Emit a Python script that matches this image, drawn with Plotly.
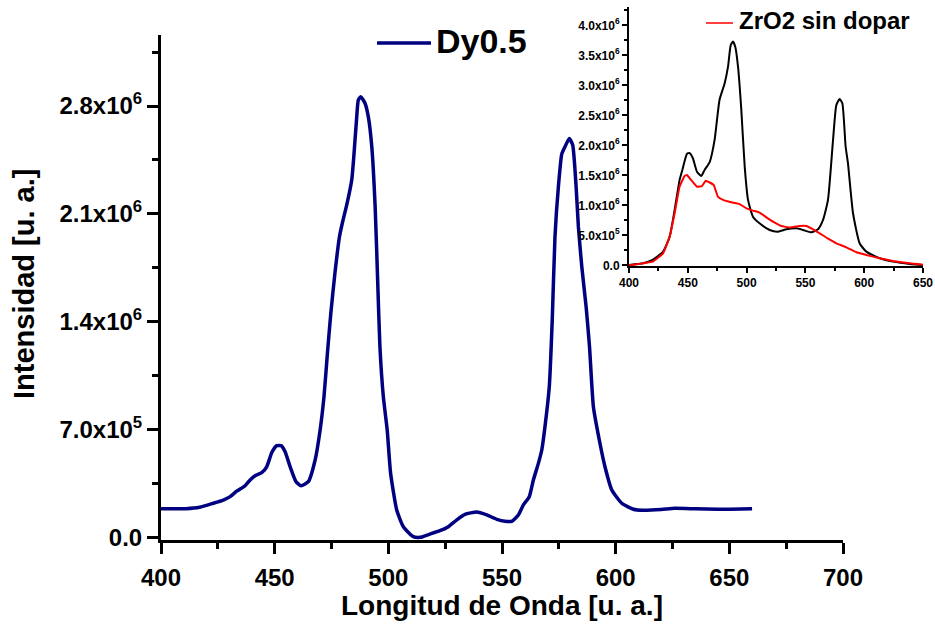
import plotly.graph_objects as go

# ---------------- data ----------------
# Main spectrum: Dy0.5 (wavelength nm, intensity a.u.)
main_x = [400, 411, 417, 423, 427.4, 430.4, 433.3, 437, 439.2, 441.4, 444.3, 446.5, 448.7, 450.9,
          452.8, 454.6, 456.8, 459.4, 461.6, 464.8, 467.8, 470, 471.7, 473.2, 474.7, 476.5, 478.5,
          479.9, 481.7, 483.9, 484.9, 486.1, 486.8, 487.9, 489.7, 491.2, 492.7, 494.2, 495.3, 496.3,
          497.8, 499.5, 501, 503.7, 506.6, 511, 514, 518.3, 522.7, 526.4, 530, 533.7, 538.9, 543.3,
          547.7, 551.3, 554.3, 557.2, 559.4, 562, 563.8, 566, 567.5, 568.9, 570.8, 572.1, 573.3,
          574.8, 576.3, 577.7, 579.6, 581.1, 582.6, 583.6, 585.1, 587, 588.5, 590.2, 592.8, 595.3,
          598.3, 602.7, 607.8, 612, 620, 626, 635, 645, 655, 660]
main_y = [186e3, 186e3, 195e3, 221e3, 242e3, 264e3, 300e3, 335e3, 372e3, 400e3, 420e3, 458e3,
          549e3, 595e3, 595e3, 556e3, 458e3, 361e3, 335e3, 361e3, 502e3, 697e3, 913e3, 1195e3,
          1455e3, 1714e3, 1952e3, 2049e3, 2158e3, 2320e3, 2490e3, 2730e3, 2840e3, 2860e3, 2820e3,
          2730e3, 2540e3, 2147e3, 1670e3, 1237e3, 913e3, 697e3, 416e3, 177e3, 69e3, 4e3, 0,
          21e3, 43e3, 69e3, 112e3, 149e3, 164e3, 145e3, 117e3, 104e3, 104e3, 145e3, 210e3, 264e3,
          372e3, 480e3, 567e3, 718e3, 978e3, 1410e3, 1950e3, 2276e3, 2490e3, 2536e3, 2590e3,
          2547e3, 2276e3, 2017e3, 1757e3, 1497e3, 1237e3, 848e3, 632e3, 458e3, 307e3, 221e3,
          182e3, 175e3, 180e3, 188e3, 185e3, 182e3, 183e3, 185e3]

# Inset: Dy-doped (black) and undoped ZrO2 (red)
ins_dy_x = [400, 412, 420, 429, 434.6, 438.8, 443, 445.4, 449.3, 451.6, 454.4, 457.8, 461.5, 464.3,
            468.6, 472.8, 477, 481.3, 484.2, 486.5, 488.4, 490.4, 492.7, 495.5, 498.4, 501.2, 505.4,
            511, 519.6, 526.7, 533.8, 542.3, 548, 555, 560.7, 565, 569.2, 573.5, 576.3, 579.1,
            581.4, 584.2, 586.2, 590.5, 596.1, 601.8, 613.2, 624.5, 638.7, 650]
ins_dy_y = [5e3, 33e3, 89e3, 228e3, 478e3, 922e3, 1420e3, 1590e3, 1860e3, 1870e3, 1780e3, 1560e3,
            1490e3, 1590e3, 1720e3, 2090e3, 2760e3, 3030e3, 3310e3, 3670e3, 3730e3, 3640e3,
            3310e3, 2590e3, 1640e3, 1090e3, 811e3, 700e3, 589e3, 561e3, 600e3, 617e3, 589e3,
            550e3, 600e3, 756e3, 1090e3, 2090e3, 2670e3, 2770e3, 2700e3, 1980e3, 1700e3, 867e3,
            367e3, 228e3, 117e3, 61e3, 22e3, 6e3]
ins_un_x = [400, 420, 429, 434.6, 438.8, 443, 447.3, 449.3, 452.9, 457.8, 462, 465.2, 468.6, 472,
            475.7, 480, 487, 494, 499.8, 505.4, 511, 516.8, 522.4, 529.5, 536.6, 545.1, 550.8,
            556.5, 562.1, 569.2, 576.3, 584.8, 593.3, 601.8, 613.2, 624.5, 638.7, 650]
ins_un_y = [0, 61e3, 200e3, 478e3, 867e3, 1310e3, 1490e3, 1505e3, 1420e3, 1310e3, 1320e3, 1410e3,
            1380e3, 1340e3, 1140e3, 1090e3, 1050e3, 1020e3, 950e3, 911e3, 878e3, 800e3, 728e3,
            656e3, 628e3, 656e3, 656e3, 600e3, 533e3, 444e3, 367e3, 300e3, 217e3, 172e3, 117e3,
            72e3, 33e3, 11e3]

# tick definitions
main_xticks = [400, 450, 500, 550, 600, 650, 700]
main_xminor = [425, 475, 525, 575, 625, 675]
main_yticks = [0, 7e5, 1.4e6, 2.1e6, 2.8e6]
main_ytext = ["0.0", "7.0x10<sup>5</sup>", "1.4x10<sup>6</sup>", "2.1x10<sup>6</sup>",
              "2.8x10<sup>6</sup>"]
main_yminor = [3.5e5, 1.05e6, 1.75e6, 2.45e6, 3.15e6]

ins_xticks = [400, 450, 500, 550, 600, 650]
ins_xminor = [425, 475, 525, 575, 625]
ins_yticks = [0, 5e5, 1e6, 1.5e6, 2e6, 2.5e6, 3e6, 3.5e6, 4e6]
ins_ytext = ["0.0", "5.0x10<sup>5</sup>", "1.0x10<sup>6</sup>", "1.5x10<sup>6</sup>",
             "2.0x10<sup>6</sup>", "2.5x10<sup>6</sup>", "3.0x10<sup>6</sup>",
             "3.5x10<sup>6</sup>", "4.0x10<sup>6</sup>"]
ins_yminor = [2.5e5, 7.5e5, 1.25e6, 1.75e6, 2.25e6, 2.75e6, 3.25e6, 3.75e6, 4.25e6]

FONT = "Liberation Sans, Arial, sans-serif"
NAVY = "#000080"

W, H = 935, 624
def px(x):
    return x / W
def py(y):
    return 1 - y / H

fig = go.Figure()
fig.add_trace(go.Scatter(x=main_x, y=main_y, mode="lines", name="Dy0.5",
                         line=dict(color=NAVY, width=3.5, shape="spline", smoothing=0.5),
                         xaxis="x", yaxis="y", showlegend=False))
fig.add_trace(go.Scatter(x=ins_dy_x, y=ins_dy_y, mode="lines", name="Dy0.5",
                         line=dict(color="black", width=2, shape="spline", smoothing=0.5),
                         xaxis="x2", yaxis="y2", showlegend=False))
fig.add_trace(go.Scatter(x=ins_un_x, y=ins_un_y, mode="lines", name="ZrO2 sin dopar",
                         line=dict(color="#ff0000", width=2, shape="spline", smoothing=0.3),
                         xaxis="x2", yaxis="y2", showlegend=False))

main_axis_common = dict(showline=True, linewidth=3, linecolor="black", ticks="outside",
                        ticklen=11, tickwidth=3, tickcolor="black", showgrid=False,
                        zeroline=False, mirror=False, automargin=False,
                        tickfont=dict(family=FONT, size=24, color="black", weight="bold"))
ins_axis_common = dict(showline=True, linewidth=2, linecolor="black", ticks="outside",
                       ticklen=5, tickwidth=1.5, tickcolor="black", showgrid=False,
                       zeroline=False, mirror=False, automargin=False,
                       tickfont=dict(family=FONT, size=12, color="black", weight="bold"))

fig.update_layout(
    width=W, height=H,
    margin=dict(l=0, r=0, t=0, b=0),
    paper_bgcolor="white", plot_bgcolor="white",
    showlegend=False,
    xaxis=dict(domain=[px(161), px(843)], range=[400, 700], anchor="y",
               tickmode="array", tickvals=main_xticks, ticklabelstandoff=3,
               minor=dict(tickvals=main_xminor, ticks="outside", ticklen=6, tickwidth=3,
                          tickcolor="black", showgrid=False),
               **main_axis_common),
    yaxis=dict(domain=[py(540), py(35)], range=[-17500, 3261600], anchor="x",
               tickmode="array", tickvals=main_yticks, ticktext=main_ytext,
               minor=dict(tickvals=main_yminor, ticks="outside", ticklen=6, tickwidth=3,
                          tickcolor="black", showgrid=False),
               **main_axis_common),
    xaxis2=dict(domain=[px(629), px(923)], range=[400, 650], anchor="y2",
                tickmode="array", tickvals=ins_xticks,
                minor=dict(tickvals=ins_xminor, ticks="outside", ticklen=3, tickwidth=1.5,
                           tickcolor="black", showgrid=False),
                **ins_axis_common),
    yaxis2=dict(domain=[py(266), py(7)], range=[-11700, 4305000], anchor="x2",
                tickmode="array", tickvals=ins_yticks, ticktext=ins_ytext,
                minor=dict(tickvals=ins_yminor, ticks="outside", ticklen=3, tickwidth=1.5,
                           tickcolor="black", showgrid=False),
                **ins_axis_common),
)

# legend samples (drawn as paper-positioned key lines)
fig.add_shape(type="line", xref="paper", yref="paper", x0=px(377), x1=px(431),
              y0=py(43), y1=py(43), line=dict(color=NAVY, width=3.5))
fig.add_shape(type="line", xref="paper", yref="paper", x0=px(706), x1=px(733),
              y0=py(23), y1=py(23), line=dict(color="#ff0000", width=1.5))

annos = [
    dict(text="Dy0.5", x=px(434), y=py(41), xanchor="left", yanchor="middle",
         font=dict(family=FONT, size=34, color="black", weight="bold")),
    dict(text="ZrO2 sin dopar", x=px(737), y=py(21), xanchor="left", yanchor="middle",
         font=dict(family=FONT, size=24, color="black", weight="bold")),
    dict(text="Longitud de Onda [u. a.]", x=px(502), y=py(605), xanchor="center",
         yanchor="middle", font=dict(family=FONT, size=28, color="black", weight="bold")),
    dict(text="Intensidad [u. a.]", x=px(24), y=py(284), xanchor="center", yanchor="middle",
         textangle=-90, font=dict(family=FONT, size=29, color="black", weight="bold")),
]
for a in annos:
    fig.add_annotation(xref="paper", yref="paper", showarrow=False, **a)

fig.write_html("out.html")
